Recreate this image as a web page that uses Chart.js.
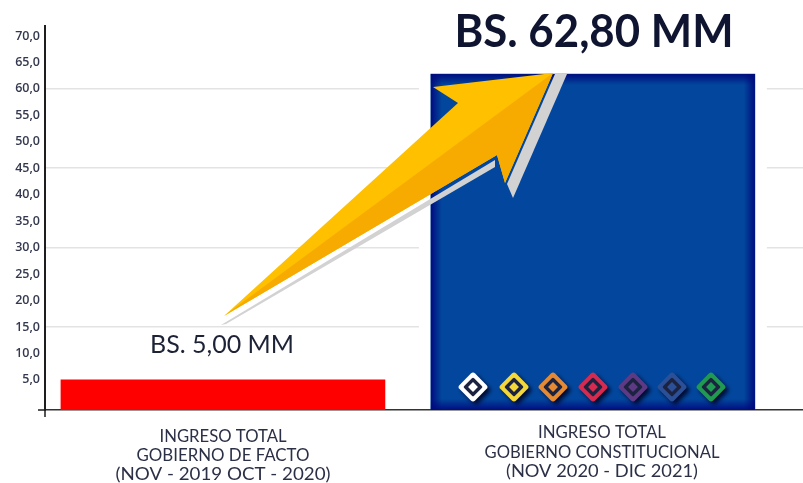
<!DOCTYPE html>
<html><head><meta charset="utf-8">
<style>html,body{margin:0;padding:0;background:#fff;overflow:hidden}canvas{display:block;filter:blur(0.45px)}</style>
<script src="https://cdn.jsdelivr.net/npm/chart.js@4"></script>
</head><body><canvas id="c" width="803" height="483"></canvas>
<script>
const categoryLines = [
  ["INGRESO TOTAL","GOBIERNO DE FACTO","(NOV - 2019 OCT - 2020)"],
  ["INGRESO TOTAL","GOBIERNO CONSTITUCIONAL","(NOV 2020 - DIC 2021)"]
];
const values = [5.0, 62.8];
const valueLabels = ["BS. 5,00 MM","BS. 62,80 MM"];
const barColors = ["#ff0000","#02479d"];
const yTickValues = [5,10,15,20,25,30,35,40,45,50,55,60,65,70];
const yTickLabels = ["5,0","10,0","15,0","20,0","25,0","30,0","35,0","40,0","45,0","50,0","55,0","60,0","65,0","70,0"];
const gridValues = [15,30,45,60];
const diamondColors = ["#ffffff","#f4d83a","#e58a33","#d62a50","#5f3a84","#2b5098","#1f9a50"];
const FONT = 'Lato, "Open Sans", sans-serif';
const TXT = '#1d2236';

function poly(ctx, pts, fill){
  ctx.beginPath(); pts.forEach((p,i)=> i?ctx.lineTo(p[0],p[1]):ctx.moveTo(p[0],p[1])); ctx.closePath();
  ctx.fillStyle = fill; ctx.fill();
}
function text(ctx, s, x, y, font, color, targetW){
  ctx.save();
  ctx.font = font; ctx.fillStyle = color; ctx.textAlign='center'; ctx.textBaseline='middle';
  const natural = ctx.measureText(s).width;
  ctx.translate(x,y); ctx.scale(targetW/natural,1);
  ctx.fillText(s,0,0);
  ctx.restore();
}
const decor = {
  id:'decor',
  beforeDatasetsDraw(chart){
    const ctx = chart.ctx, b = chart.getDatasetMeta(0).data[1];
    ctx.save(); ctx.fillStyle='#fff';
    ctx.fillRect(b.x-b.width/2-12, b.y-14, b.width+24, chart.scales.y.bottom-b.y+12);
    ctx.restore();
  },
  afterDatasetsDraw(chart){
    const ctx = chart.ctx, bars = chart.getDatasetMeta(0).data, y = chart.scales.y;
    const b = bars[1], L=b.x-b.width/2, R=b.x+b.width/2, T=b.y, B=y.bottom;
    ctx.save();
    const edge='rgba(0,10,125,0.95)', none='rgba(0,10,125,0)', w=11;
    let g;
    g=ctx.createLinearGradient(L,0,L+w,0); g.addColorStop(0,edge); g.addColorStop(1,none); ctx.fillStyle=g; ctx.fillRect(L,T,w,B-T);
    g=ctx.createLinearGradient(R,0,R-w,0); g.addColorStop(0,edge); g.addColorStop(1,none); ctx.fillStyle=g; ctx.fillRect(R-w,T,w,B-T);
    g=ctx.createLinearGradient(0,T,0,T+w); g.addColorStop(0,edge); g.addColorStop(1,none); ctx.fillStyle=g; ctx.fillRect(L,T,R-L,w);
    g=ctx.createLinearGradient(0,B,0,B-w); g.addColorStop(0,edge); g.addColorStop(1,none); ctx.fillStyle=g; ctx.fillRect(L,B-w,R-L,w);

    // diamonds
    const cx=[473,514,553,593,633,672,711], cy=387;
    diamondColors.forEach((c,i)=>{
      ctx.save(); ctx.translate(cx[i],cy); ctx.rotate(Math.PI/4);
      ctx.save(); ctx.shadowColor='rgba(0,0,30,0.85)'; ctx.shadowBlur=4; ctx.shadowOffsetX=3; ctx.shadowOffsetY=3;
      ctx.fillStyle=c; ctx.beginPath(); ctx.roundRect(-11,-11,22,22,3); ctx.fill(); ctx.restore();
      ctx.fillStyle='#1c2340'; ctx.beginPath(); ctx.roundRect(-7,-7,14,14,1.5); ctx.fill();
      ctx.fillStyle=c; ctx.fillRect(-3.5,-3.5,7,7);
      ctx.restore();
    });

    // arrow
    poly(ctx,[[221,325],[495,160],[495,167],[226,324]],'#d2d2d2');
    poly(ctx,[[555,T],[567,T],[513,198],[507,184]],'#d2d2d2');
    poly(ctx,[[224,316],[458,103],[433,87],[553,73],[505,183],[497,155]],'#ffc000');
    poly(ctx,[[224,316],[553,73],[505,183],[497,155]],'#f7ab00');

    // axis cross
    ctx.strokeStyle='#1e1e1e'; ctx.lineWidth=1.5;
    ctx.beginPath(); ctx.moveTo(38,B); ctx.lineTo(46,B); ctx.moveTo(45,B); ctx.lineTo(45,417); ctx.stroke();

    // value labels
    text(ctx,valueLabels[0],222,345,'400 25px '+FONT,TXT,144);
    text(ctx,valueLabels[1],594,32,'700 46px '+FONT,'#0f1530',279);

    // category labels
    const rows=[[437,456,475],[433,453,472]], xs=[223,602], ws=[[127,173,215],[128,235,192]];
    categoryLines.forEach((ls,i)=>ls.forEach((s,j)=>text(ctx,s,xs[i],rows[i][j],'400 16.5px '+FONT,'#2b3046',ws[i][j])));
    ctx.restore();
  }
};
new Chart(document.getElementById('c'),{
  type:'bar',
  data:{datasets:[{
    data:values.map((v,i)=>({x:i,y:v})),
    backgroundColor:barColors,
    barThickness:324,
    base:-0.7,
    borderWidth:0
  }]},
  options:{
    responsive:false, animation:false,
    layout:{padding:{top:26,left:0,right:0,bottom:0}},
    plugins:{legend:{display:false},tooltip:{enabled:false},title:{display:false}},
    scales:{
      x:{type:'linear',min:-0.481,max:1.568,
        afterBuildTicks(s){s.ticks=[];},
        afterFit(s){s.height=73;},
        grid:{display:false},
        border:{display:true,color:'#333',width:1.5},
        ticks:{display:false}
      },
      y:{min:-0.7,max:71.89,
        afterBuildTicks(s){s.ticks=yTickValues.map(v=>({value:v}));},
        afterFit(s){s.width=45;},
        border:{display:true,color:'#1e1e1e',width:2},
        grid:{drawTicks:false,lineWidth:1.5,color:c=>gridValues.includes(c.tick&&c.tick.value)?'#e3e3e3':'rgba(0,0,0,0)'},
        ticks:{padding:5,autoSkip:false,color:'#33384e',font:{family:'"Open Sans"',size:12.5,weight:'600'},
          callback:(v)=>{const i=yTickValues.indexOf(v);return i<0?'':yTickLabels[i];}}
      }
    }
  },
  plugins:[decor]
});
</script></body></html>
